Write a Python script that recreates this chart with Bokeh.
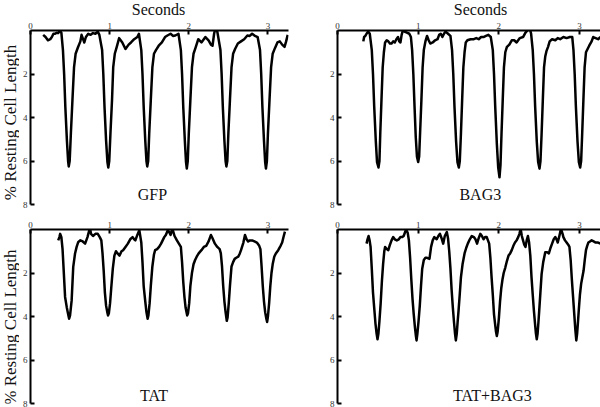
from bokeh.plotting import figure
from bokeh.layouts import gridplot, column
from bokeh.models import Range1d, FixedTicker, Label
from bokeh.embed import file_html
from bokeh.resources import INLINE

# ---------------- data (seconds, % resting cell length) ----------------
x_ticks = [0, 1, 2, 3]
y_ticks = [2, 4, 6, 8]
panel_names = ["GFP", "BAG3", "TAT", "TAT+BAG3"]
x_title = "Seconds"
y_title = "% Resting Cell Length"

gfp = [(0.16,0.2),(0.19,0.3),(0.22,0.45),(0.25,0.4),(0.27,0.3),(0.29,0.15),(0.31,0.15),(0.33,0.1),(0.35,0.12),(0.37,0.0),(0.39,0.1),
       (0.41,0.9),(0.425,2.0),(0.44,3.5),(0.46,5.05),(0.475,6.0),(0.483,6.25),(0.495,6.0),(0.51,4.75),(0.53,3.2),(0.55,1.7),(0.57,1.07),(0.60,0.77),(0.63,0.5),(0.645,0.2),(0.66,0.35),(0.68,0.55),(0.70,0.3),(0.73,0.15),(0.76,0.2),(0.79,0.12),(0.82,0.15),(0.85,0.05),(0.87,0.2),
       (0.905,0.9),(0.92,2.0),(0.935,3.5),(0.955,5.05),(0.972,6.05),(0.983,6.3),(0.995,6.0),(1.01,4.75),(1.03,3.2),(1.045,1.7),(1.065,1.07),(1.09,0.75),(1.12,0.35),(1.16,0.55),(1.20,0.85),(1.24,0.65),(1.27,0.55),(1.31,0.4),(1.35,0.3),(1.37,0.15),
       (1.40,0.9),(1.415,2.0),(1.43,3.5),(1.45,5.05),(1.465,6.0),(1.475,6.25),(1.487,6.0),(1.50,4.75),(1.52,3.2),(1.54,1.7),(1.56,1.07),(1.585,0.9),(1.62,0.7),(1.66,0.55),(1.70,0.3),(1.73,0.23),(1.77,0.15),(1.80,0.25),(1.83,0.23),(1.87,0.15),
       (1.90,0.9),(1.915,2.0),(1.93,3.5),(1.95,5.05),(1.965,6.05),(1.975,6.35),(1.987,6.0),(2.00,4.75),(2.02,3.2),(2.04,1.7),(2.06,1.07),(2.085,0.8),(2.12,0.4),(2.16,0.55),(2.21,0.3),(2.25,0.45),(2.28,0.65),(2.30,0.7),(2.32,0.15),(2.345,-0.25),(2.365,0.15),
       (2.40,0.9),(2.415,2.0),(2.43,3.5),(2.45,5.05),(2.465,6.0),(2.475,6.25),(2.487,6.0),(2.50,4.75),(2.52,3.2),(2.54,1.7),(2.56,1.07),(2.585,0.85),(2.62,0.6),(2.66,0.5),(2.70,0.4),(2.74,0.23),(2.77,0.25),(2.80,0.15),(2.83,0.23),(2.87,0.3),
       (2.90,0.9),(2.915,2.0),(2.93,3.5),(2.95,5.05),(2.965,6.05),(2.975,6.35),(2.987,6.0),(3.00,4.75),(3.02,3.2),(3.04,1.7),(3.06,1.07),(3.09,0.8),(3.12,0.55),(3.15,0.5),(3.18,0.65),(3.21,0.75),(3.23,0.5),(3.25,0.2)]

bag3 = [(0.32,0.5),(0.33,0.3),(0.345,0.25),(0.36,0.15),(0.38,0.05),(0.40,0.15),
        (0.425,0.9),(0.44,2.0),(0.455,3.5),(0.475,5.1),(0.49,6.05),(0.508,6.3),(0.52,6.0),(0.53,4.75),(0.545,3.2),(0.56,1.7),(0.575,1.0),(0.59,0.55),(0.61,0.45),(0.63,0.5),(0.65,0.6),(0.67,0.6),(0.69,0.5),(0.71,0.55),(0.73,0.4),(0.75,0.3),(0.765,0.5),(0.78,0.55),(0.795,0.2),(0.81,0.0),(0.83,0.05),(0.86,0.1),(0.89,0.15),(0.91,0.3),
        (0.925,0.9),(0.94,2.0),(0.955,3.5),(0.97,4.9),(0.985,5.8),(1.0,6.05),(1.012,5.8),(1.025,4.6),(1.04,3.2),(1.055,1.7),(1.07,0.9),(1.09,0.5),(1.11,0.25),(1.13,0.45),(1.15,0.6),(1.18,0.55),(1.21,0.45),(1.24,0.4),(1.26,0.2),(1.28,0.15),(1.30,0.3),(1.32,0.15),(1.34,0.05),(1.37,0.15),(1.40,0.25),
        (1.42,0.9),(1.435,2.0),(1.45,3.5),(1.47,5.1),(1.487,6.05),(1.504,6.3),(1.516,6.0),(1.53,4.75),(1.545,3.2),(1.56,1.7),(1.575,1.0),(1.59,0.55),(1.61,0.45),(1.65,0.4),(1.69,0.4),(1.72,0.35),(1.75,0.4),(1.78,0.3),(1.81,0.3),(1.84,0.25),(1.87,0.2),(1.90,0.3),
        (1.925,0.9),(1.94,2.0),(1.955,3.5),(1.975,5.2),(1.992,6.3),(2.008,6.75),(2.02,6.2),(2.033,4.75),(2.048,3.2),(2.063,1.7),(2.08,1.0),(2.10,0.75),(2.13,0.65),(2.16,0.45),(2.19,0.45),(2.22,0.55),(2.26,0.35),(2.30,0.3),(2.33,0.1),(2.355,0.0),(2.38,-0.15),(2.40,0.15),
        (2.42,0.9),(2.435,2.0),(2.45,3.5),(2.47,5.1),(2.487,6.05),(2.504,6.35),(2.516,6.0),(2.53,4.75),(2.545,3.2),(2.56,1.7),(2.575,1.2),(2.59,0.95),(2.61,0.75),(2.63,0.5),(2.66,0.4),(2.70,0.45),(2.73,0.35),(2.76,0.4),(2.80,0.3),(2.84,0.35),(2.88,0.3),(2.91,0.3),
        (2.925,0.9),(2.94,2.0),(2.955,3.5),(2.975,5.1),(2.992,6.05),(3.008,6.3),(3.02,6.0),(3.033,4.75),(3.048,3.2),(3.063,1.7),(3.08,1.0),(3.10,0.85),(3.12,0.7),(3.15,0.5),(3.17,0.3),(3.20,0.35),(3.23,0.4),(3.26,0.3)]

tat = [(0.35,0.5),(0.365,0.35),(0.375,0.2),(0.39,0.35),
       (0.405,0.9),(0.417,1.72),(0.437,3.1),(0.458,3.57),(0.479,3.95),(0.488,4.1),(0.50,3.95),(0.52,3.26),(0.54,1.72),(0.563,1.1),(0.583,0.8),(0.604,0.57),(0.63,0.5),(0.66,0.55),(0.69,0.65),(0.72,0.35),(0.745,0.0),(0.75,-0.1),(0.765,0.2),(0.79,0.3),(0.82,0.2),(0.85,0.2),(0.875,0.35),(0.895,0.5),
       (0.91,1.1),(0.925,1.9),(0.94,2.9),(0.955,3.5),(0.97,3.8),(0.98,3.95),(0.99,3.85),(1.005,3.4),(1.02,2.7),(1.04,1.8),(1.06,1.2),(1.08,1.0),(1.10,1.1),(1.125,1.2),(1.15,1.0),(1.17,0.95),(1.20,0.8),(1.23,0.65),(1.26,0.45),(1.29,0.35),(1.31,0.45),(1.325,0.5),(1.35,0.25),(1.375,0.03),
       (1.40,0.6),(1.415,1.5),(1.43,2.6),(1.45,3.3),(1.465,3.8),(1.48,4.1),(1.49,3.95),(1.505,3.4),(1.52,2.6),(1.54,1.7),(1.56,1.15),(1.575,0.95),(1.60,0.9),(1.625,0.8),(1.65,0.65),(1.67,0.5),(1.69,0.35),(1.71,0.25),(1.735,0.03),(1.75,0.1),(1.77,0.25),(1.785,0.05),(1.80,0.05),(1.82,0.3),(1.85,0.5),(1.875,0.65),(1.90,0.8),
       (1.915,1.5),(1.93,2.4),(1.945,3.1),(1.96,3.6),(1.98,3.95),(1.99,3.85),(2.005,3.4),(2.02,2.6),(2.04,2.0),(2.06,1.6),(2.08,1.4),(2.10,1.25),(2.125,1.1),(2.16,0.95),(2.19,0.8),(2.22,0.75),(2.25,0.55),(2.28,0.25),(2.30,0.4),(2.33,0.65),(2.36,0.8),(2.39,0.9),(2.405,1.1),
       (2.42,1.7),(2.435,2.6),(2.45,3.3),(2.465,3.8),(2.48,4.2),(2.49,4.05),(2.505,3.4),(2.52,2.6),(2.54,1.7),(2.56,1.5),(2.58,1.35),(2.60,1.3),(2.625,1.25),(2.645,1.1),(2.66,0.95),(2.69,0.6),(2.71,0.25),(2.73,0.45),(2.75,0.55),(2.77,0.5),(2.80,0.5),(2.83,0.55),(2.86,0.6),(2.89,0.75),(2.905,0.9),
       (2.92,1.7),(2.935,2.6),(2.95,3.3),(2.965,3.8),(2.98,4.1),(2.99,4.25),(3.00,4.0),(3.015,3.4),(3.03,2.6),(3.045,2.0),(3.06,1.6),(3.08,1.25),(3.10,1.1),(3.13,0.95),(3.16,0.75),(3.18,0.6),(3.20,0.3),(3.215,0.1)]

tat_bag3 = [(0.36,0.65),(0.372,0.45),(0.385,0.3),(0.398,0.5),(0.41,0.8),
            (0.425,1.8),(0.44,2.9),(0.455,3.6),(0.47,4.3),(0.485,4.8),(0.496,5.05),(0.507,4.8),(0.52,4.2),(0.535,3.4),(0.55,2.4),(0.565,1.6),(0.58,1.0),(0.59,0.8),(0.61,0.9),(0.63,0.95),(0.65,0.7),(0.67,0.5),(0.69,0.35),(0.71,0.45),(0.735,0.5),(0.76,0.45),(0.78,0.35),(0.80,0.35),(0.82,0.3),(0.835,0.15),(0.85,0.0),(0.87,0.15),(0.885,0.5),
            (0.90,1.3),(0.915,2.3),(0.93,3.2),(0.945,3.9),(0.96,4.5),(0.972,4.9),(0.98,5.1),(0.99,4.8),(1.005,4.2),(1.02,3.5),(1.035,2.6),(1.05,1.8),(1.07,1.4),(1.09,1.3),(1.11,1.3),(1.14,1.35),(1.16,0.8),(1.18,0.5),(1.20,0.35),(1.23,0.45),(1.25,0.3),(1.27,0.2),(1.29,0.4),(1.31,0.65),(1.33,0.3),(1.355,0.12),(1.37,0.4),
            (1.385,1.0),(1.40,1.8),(1.415,2.8),(1.43,3.6),(1.445,4.3),(1.457,4.8),(1.467,5.1),(1.478,4.8),(1.49,4.2),(1.50,3.75),(1.515,3.0),(1.53,2.2),(1.55,1.6),(1.575,1.1),(1.595,0.85),(1.615,0.65),(1.64,0.45),(1.665,0.3),(1.69,0.35),(1.71,0.45),(1.73,0.65),(1.75,0.4),(1.77,0.2),(1.79,0.3),(1.81,0.45),(1.83,0.35),(1.85,0.35),(1.865,0.5),(1.88,0.65),
            (1.895,1.3),(1.91,2.2),(1.925,3.0),(1.94,3.9),(1.955,4.4),(1.965,4.7),(1.975,4.9),(1.985,4.7),(2.00,4.1),(2.015,3.3),(2.03,2.7),(2.045,2.3),(2.06,2.0),(2.08,1.75),(2.10,1.45),(2.12,1.2),(2.14,1.1),(2.16,0.95),(2.18,0.75),(2.20,0.6),(2.22,0.5),(2.24,0.35),(2.255,0.2),(2.27,-0.03),(2.285,0.3),(2.30,0.5),(2.315,0.7),(2.33,0.8),(2.345,0.5),(2.36,0.3),(2.375,0.6),
            (2.39,1.2),(2.405,2.2),(2.42,3.0),(2.435,3.75),(2.45,4.4),(2.46,4.8),(2.47,5.05),(2.48,4.8),(2.49,4.3),(2.50,3.75),(2.515,2.9),(2.53,2.05),(2.55,1.5),(2.575,1.05),(2.60,1.05),(2.62,1.1),(2.64,0.85),(2.66,0.65),(2.68,0.45),(2.70,0.35),(2.715,0.45),(2.73,0.6),(2.75,0.3),(2.77,-0.03),(2.79,0.2),(2.80,0.35),(2.82,0.5),(2.84,0.6),(2.86,0.7),(2.875,0.8),
            (2.89,1.4),(2.905,2.3),(2.92,3.1),(2.935,3.9),(2.948,4.6),(2.96,5.1),(2.97,4.8),(2.98,4.3),(2.99,3.75),(3.005,3.0),(3.02,2.5),(3.035,2.2),(3.05,1.9),(3.065,1.4),(3.08,0.95),(3.095,0.75),(3.11,0.6),(3.13,0.55),(3.15,0.5),(3.175,0.55),(3.20,0.6),(3.23,0.6),(3.26,0.65)]

# ---------------- styling ----------------
FONT = "Liberation Serif"
X_MAX = 3.26
TEXT_COLOR = "#111111"


def make_panel(name, trace, label_pos, width, height, border_left, border_right,
               border_top, border_bottom):
    p = figure(width=width, height=height, output_backend="svg", toolbar_location=None,
               x_axis_location="above", x_range=Range1d(0, X_MAX), y_range=Range1d(8, 0),
               min_border_left=border_left, min_border_right=border_right,
               min_border_top=border_top, min_border_bottom=border_bottom,
               background_fill_color="white", border_fill_color="white")
    p.outline_line_color = None
    p.grid.visible = False

    xa = p.xaxis[0]
    xa.ticker = FixedTicker(ticks=x_ticks)
    ya = p.yaxis[0]
    ya.ticker = FixedTicker(ticks=y_ticks)
    for ax in (xa, ya):
        ax.axis_line_width = 2
        ax.axis_line_color = "black"
        ax.major_tick_line_width = 2
        ax.major_tick_line_color = "black"
        ax.major_tick_in = 4
        ax.major_tick_out = 0
        ax.minor_tick_in = 0
        ax.minor_tick_out = 0
        ax.major_label_text_font = FONT
        ax.major_label_text_font_size = "9px"
        ax.major_label_text_color = "#333333"
    xa.major_label_standoff = 2
    ya.major_label_standoff = 3

    ts = [pt[0] for pt in trace]
    ys = [pt[1] for pt in trace]
    p.line(ts, ys, line_width=2.5, line_color="black", line_join="round")

    p.add_layout(Label(x=label_pos[0], y=label_pos[1], text=name, text_font=FONT,
                       text_font_size="16px", text_align="center",
                       text_baseline="middle", text_color=TEXT_COLOR))
    return p


def make_text_strip(texts, width, height, positions, size, angle=0):
    # a bare strip (pixel-unit ranges, no axes) that only carries title texts
    s = figure(width=width, height=height, output_backend="svg", toolbar_location=None,
               x_axis_location=None, y_axis_location=None,
               x_range=Range1d(0, width), y_range=Range1d(height, 0),
               min_border_left=0, min_border_right=0, min_border_top=0, min_border_bottom=0,
               background_fill_color="white", border_fill_color="white")
    s.outline_line_color = None
    s.grid.visible = False
    for text, pos in zip(texts, positions):
        s.add_layout(Label(x=pos[0], y=pos[1], text=text, text_font=FONT, text_font_size=size,
                           text_align="center", text_baseline="middle", angle=angle,
                           angle_units="deg", text_color=TEXT_COLOR))
    return s


STRIP_W = 19
LEFT_W, RIGHT_W = 300 - STRIP_W, 300
TITLE_H, TOP_H, BOT_H = 18, 192, 197

top_strip = make_text_strip([x_title, x_title], 600, TITLE_H, [(158, 9), (480, 9)], "16px")
y1 = make_text_strip([y_title], STRIP_W, TOP_H, [(9.5, 101.5)], "17px", angle=90)
y2 = make_text_strip([y_title], STRIP_W, BOT_H, [(9.5, 110.5)], "17px", angle=90)

p1 = make_panel(panel_names[0], gfp, (1.54, 7.52), LEFT_W, TOP_H, 27 - STRIP_W, 12, 12, 6)
p2 = make_panel(panel_names[1], bag3, (1.77, 7.52), RIGHT_W, TOP_H, 37, 0, 12, 6)
p3 = make_panel(panel_names[2], tat, (1.56, 7.64), LEFT_W, BOT_H, 27 - STRIP_W, 12, 19, 4)
p4 = make_panel(panel_names[3], tat_bag3, (1.92, 7.64), RIGHT_W, BOT_H, 37, 0, 19, 4)

grid = gridplot([[y1, p1, p2], [y2, p3, p4]], toolbar_location=None)
page = column(top_strip, grid)

with open("out.html", "w") as f:
    f.write(file_html(page, INLINE))
